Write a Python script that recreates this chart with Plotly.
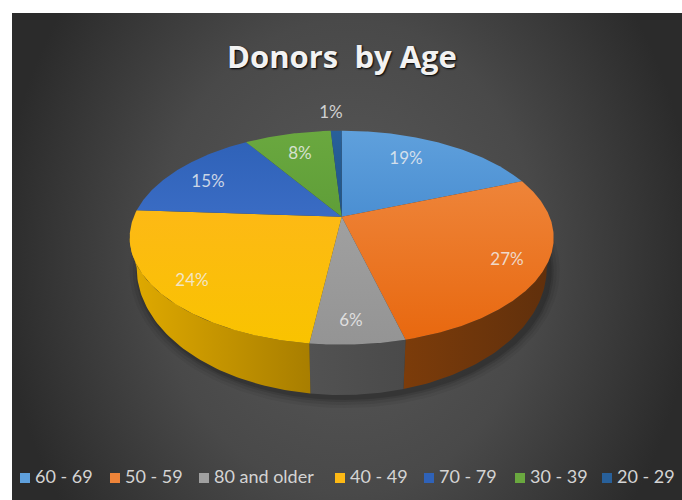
import base64
import numpy as np
import plotly.graph_objects as go

# data
categories = ['60 - 69', '50 - 59', '80 and older', '40 - 49', '70 - 79', '30 - 39', '20 - 29']
shares = [19, 27, 6, 24, 15, 8, 1]
share_labels = ['19%', '27%', '6%', '24%', '15%', '8%', '1%']

# styling
top_colors = [('#5fa0dc', '#4b8fd2'), ('#ee8439', '#e8680f'), ('#a0a0a0', '#949494'),
              ('#fdb915', '#f9c300'), ('#2f62b8', '#3a6cc4'), ('#6aa83f', '#5f9e38'), ('#28609a', '#1f5488')]
side_colors = [('#44759f', '#44759f'), ('#5f2f0c', '#7c3c0a'), ('#525252', '#4a4a4a'),
               ('#e0aa00', '#a87e00'), ('#2a4d8a', '#2a4d8a'), ('#4f7a30', '#4f7a30'), ('#1a4166', '#1a4166')]
label_x = [406, 507, 351, 192, 208, 300, 331]
label_y = [160, 261, 322, 282, 183, 155, 114]
legend_x = [25, 115, 204, 340, 429, 520, 607]

# pie geometry in page pixels (the axes run 0-682 / 500-0)
CX, CY = 341.7, 216.7
RX, RY, TILT = 207.9, 102.9, 0.196
LOW_CY, LOW_RX, LOW_RY = 268, 205, 127
TOP_RX = RX / np.sqrt(1 - TILT ** 2)
FRONT = np.degrees(np.arccos(-TILT))


def rim(deg):
    t = np.radians(deg)
    den = 1 + TILT * np.cos(t)
    return CX + RX * np.sin(t) / den, CY - RY * np.cos(t) / den


def low_rim(x):
    dx = (x - CX) * LOW_RX / TOP_RX
    return CX + dx, LOW_CY + LOW_RY * np.sqrt(np.clip(1 - (dx / LOW_RX) ** 2, 0, 1))


panel = '''<svg xmlns="http://www.w3.org/2000/svg" width="670" height="487">
<defs><radialGradient id="g" cx="0.5" cy="0.5" r="0.52"
gradientTransform="translate(0.5,0.5) scale(1,1.7) translate(-0.5,-0.5)">
<stop offset="0" stop-color="#5a5a5a"/><stop offset="0.55" stop-color="#494949"/>
<stop offset="1" stop-color="#2b2b2b"/></radialGradient></defs>
<rect width="670" height="487" fill="url(#g)"/></svg>'''
panel_uri = 'data:image/svg+xml;base64,' + base64.b64encode(panel.encode()).decode()

fig = go.Figure()

# soft shadow under the pie
ang = np.linspace(0, 360, 181)
for grow, alpha in [(10, 0.05), (7, 0.07), (4, 0.10), (2, 0.12)]:
    fig.add_trace(go.Scatter(
        x=CX + 3 + (LOW_RX + grow) * np.sin(np.radians(ang)),
        y=LOW_CY + 3 + (LOW_RY + grow) * np.cos(np.radians(ang)),
        mode='lines', line_width=0, fill='toself',
        fillcolor=f'rgba(0,0,0,{alpha})', hoverinfo='skip', showlegend=False))

edges = 360 * np.concatenate([[0], np.cumsum(shares)]) / sum(shares)

# side wall, only the part that faces the viewer
for i in range(len(shares)):
    start, stop = max(edges[i], FRONT), min(edges[i + 1], 360 - FRONT)
    if start >= stop:
        continue
    a = np.linspace(start, stop, 60)
    x, y = rim(a)
    lx, ly = low_rim(x)
    # left colour first, the walls run right to left with the angle
    fig.add_trace(go.Scatter(
        x=np.concatenate([x, lx[::-1]]), y=np.concatenate([y, ly[::-1]]),
        mode='lines', line_width=0, fill='toself',
        fillgradient=dict(type='horizontal',
                          colorscale=[[0, side_colors[i][1]], [1, side_colors[i][0]]] if i == 1
                          else [[0, side_colors[i][0]], [1, side_colors[i][1]]]),
        hoverinfo='skip', showlegend=False))

# top face
for i in range(len(shares)):
    a = np.linspace(edges[i], edges[i + 1], max(int(edges[i + 1] - edges[i]) * 2, 4))
    x, y = rim(a)
    fig.add_trace(go.Scatter(
        x=np.concatenate([[CX], x, [CX]]), y=np.concatenate([[CY], y, [CY]]),
        mode='lines', line_width=0, fill='toself',
        fillgradient=dict(type='vertical',
                          colorscale=[[0, top_colors[i][1]], [1, top_colors[i][0]]]),
        hoverinfo='skip', showlegend=False))

# percentage labels
fig.add_trace(go.Scatter(
    x=label_x, y=label_y, text=share_labels, mode='text',
    textfont=dict(family='Lato', size=17, color='rgba(240,240,240,0.82)'),
    hoverinfo='skip', showlegend=False))

# legend row
fig.add_trace(go.Scatter(
    x=legend_x, y=[478] * len(categories),
    mode='markers',
    marker=dict(symbol='square', size=10, color=[c[0] for c in top_colors]),
    hoverinfo='skip', showlegend=False))
fig.add_trace(go.Scatter(
    x=[v + 10 for v in legend_x], y=[478] * len(categories), text=categories,
    mode='text', textposition='middle right',
    textfont=dict(family='Lato', size=18, color='#d4d4d4'),
    hoverinfo='skip', showlegend=False))

fig.update_layout(
    width=682, height=500,
    margin=dict(l=0, r=0, t=0, b=0),
    paper_bgcolor='white', plot_bgcolor='rgba(0,0,0,0)',
    showlegend=False,
    title=dict(text='Donors  by Age', x=342 / 682, y=1 - 57 / 500,
               xanchor='center', yanchor='middle',
               font=dict(family='Open Sans', size=31, color='#f2f2f2', weight='bold',
                         shadow='1px 1px 2px #000')),
    xaxis=dict(range=[0, 682], visible=False, fixedrange=True),
    yaxis=dict(range=[500, 0], visible=False, fixedrange=True),
    images=[dict(source=panel_uri, xref='x', yref='y', x=12, y=13, sizex=670, sizey=487,
                 sizing='stretch', layer='below', xanchor='left', yanchor='top')],
)

# page margin off so the figure fills the window
fig.write_html('out.html', config={'displayModeBar': False},
               post_script="document.body.style.margin='0';")
